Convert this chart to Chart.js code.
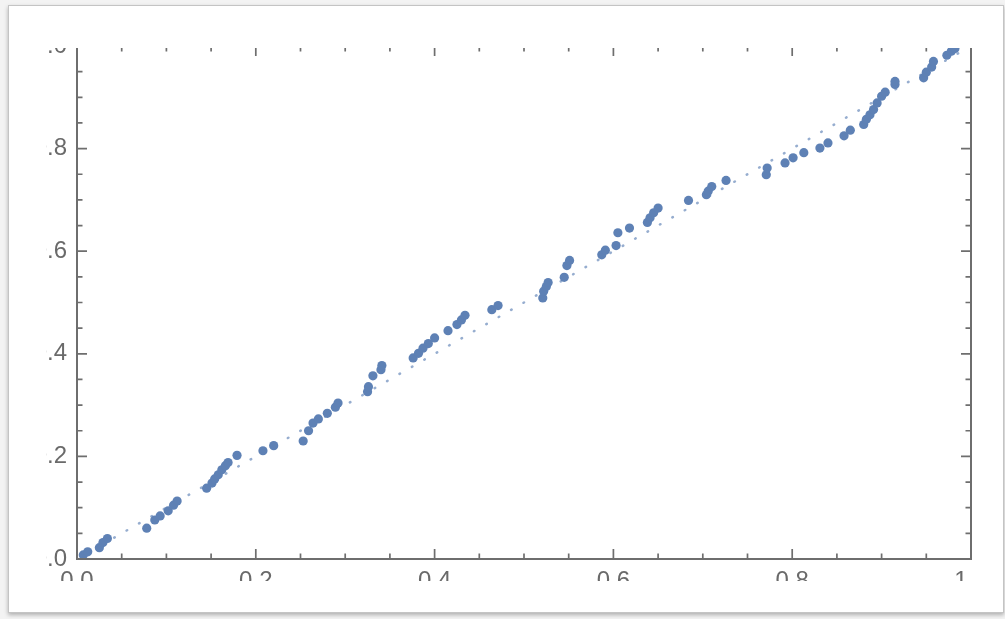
<!DOCTYPE html>
<html>
<head>
<meta charset="utf-8">
<script src="https://cdn.jsdelivr.net/npm/chart.js@4/dist/chart.umd.min.js"></script>
<style>
  html, body { margin: 0; padding: 0; width: 1005px; height: 619px; overflow: hidden; background: #f3f3f3; }
  #card { position: absolute; left: 8px; top: 5px; width: 994px; height: 606px; background: #fff;
          border: 1px solid #c4c4c4; box-shadow: 0 2px 4px rgba(0,0,0,0.28); }
  #clip { position: absolute; left: 46px; top: 48px; width: 928px; height: 533px; overflow: hidden; }
  #wrap { position: absolute; left: -46px; top: -48px; width: 1005px; height: 619px; }
</style>
</head>
<body>
<div id="card"></div>
<div id="clip"><div id="wrap"><canvas id="c" width="1005" height="619"></canvas></div></div>
<script>
// Sample quantiles (x) against observed values (y)
const sampleX = [
  0.007, 0.012, 0.025, 0.029, 0.034, 0.078, 0.087, 0.093, 0.102, 0.108,
  0.112, 0.145, 0.151, 0.154, 0.158, 0.162, 0.166, 0.169, 0.179, 0.208,
  0.220, 0.253, 0.259, 0.264, 0.270, 0.280, 0.289, 0.292, 0.325, 0.326,
  0.331, 0.340, 0.341, 0.376, 0.382, 0.387, 0.393, 0.400, 0.415, 0.425,
  0.430, 0.434, 0.464, 0.471, 0.521, 0.522, 0.525, 0.527, 0.545, 0.548,
  0.551, 0.587, 0.591, 0.603, 0.605, 0.618, 0.638, 0.641, 0.645, 0.650,
  0.684, 0.704, 0.706, 0.710, 0.726, 0.771, 0.772, 0.792, 0.801, 0.813,
  0.831, 0.840, 0.858, 0.865, 0.880, 0.883, 0.887, 0.891, 0.895, 0.900,
  0.904, 0.915, 0.915, 0.947, 0.950, 0.956, 0.958, 0.973, 0.978, 0.982
];
const sampleY = [
  0.008, 0.014, 0.022, 0.032, 0.040, 0.060, 0.076, 0.084, 0.094, 0.105,
  0.113, 0.138, 0.148, 0.156, 0.164, 0.174, 0.182, 0.188, 0.202, 0.211,
  0.221, 0.230, 0.250, 0.265, 0.273, 0.284, 0.296, 0.304, 0.326, 0.336,
  0.357, 0.369, 0.377, 0.392, 0.401, 0.411, 0.420, 0.431, 0.445, 0.457,
  0.466, 0.475, 0.486, 0.494, 0.509, 0.522, 0.531, 0.539, 0.549, 0.572,
  0.582, 0.593, 0.602, 0.611, 0.636, 0.645, 0.656, 0.665, 0.675, 0.684,
  0.699, 0.710, 0.717, 0.726, 0.738, 0.749, 0.762, 0.772, 0.782, 0.792,
  0.801, 0.811, 0.825, 0.836, 0.847, 0.857, 0.866, 0.876, 0.889, 0.902,
  0.910, 0.925, 0.931, 0.938, 0.949, 0.959, 0.970, 0.982, 0.990, 0.995
];

// Reference diagonal y = x
const refX = [0, 1];
const refY = [0, 1];

// Major tick positions and their labels
const tickValues = [0, 0.2, 0.4, 0.6, 0.8, 1.0];
const xTickLabels = ['0.0', '0.2', '0.4', '0.6', '0.8', '1.0'];
const yTickLabels = ['0.0', '0.2', '0.4', '0.6', '0.8', '1.0'];

const points = sampleX.map((v, i) => ({ x: v, y: sampleY[i] }));
const refLine = refX.map((v, i) => ({ x: v, y: refY[i] }));

const FRAME = '#6e6e6e';
const LABEL = '#6a6a6a';
const FONT = { family: 'Liberation Sans, Arial, sans-serif', size: 24 };

// Frame with inward ticks on all four sides
const framePlugin = {
  id: 'frame',
  afterDatasetsDraw(chart) {
    const { ctx, chartArea: a, scales } = chart;
    const xs = scales.x, ys = scales.y;
    ctx.save();
    ctx.strokeStyle = FRAME;
    ctx.lineWidth = 1.7;
    ctx.beginPath();
    for (let i = 0; i <= 20; i++) {
      const v = i / 20;
      const len = (i % 4 === 0) ? 10 : 5.5;
      const px = xs.getPixelForValue(v);
      ctx.moveTo(px, a.bottom); ctx.lineTo(px, a.bottom - len);
      ctx.moveTo(px, a.top);    ctx.lineTo(px, a.top + len);
      const py = ys.getPixelForValue(v);
      ctx.moveTo(a.left, py);  ctx.lineTo(a.left + len, py);
      ctx.moveTo(a.right, py); ctx.lineTo(a.right - len, py);
    }
    ctx.stroke();
    ctx.lineWidth = 2;
    ctx.strokeRect(a.left, a.top, a.right - a.left, a.bottom - a.top);
    ctx.restore();
  }
};

function fixedTicks(scale) {
  scale.ticks = tickValues.map(v => ({ value: v }));
}

new Chart(document.getElementById('c'), {
  type: 'scatter',
  data: {
    datasets: [
      {
        data: points,
        backgroundColor: '#5e81b5',
        borderColor: '#5e81b5',
        borderWidth: 0,
        pointRadius: 4.6,
        pointHoverRadius: 4.6
      },
      {
        type: 'line',
        data: refLine,
        borderColor: 'rgba(94,129,181,0.65)',
        borderWidth: 2.5,
        borderDash: [0.6, 13.7],
        borderCapStyle: 'round',
        pointRadius: 0,
        fill: false
      }
    ]
  },
  options: {
    responsive: false,
    devicePixelRatio: 1,
    animation: false,
    layout: { padding: { left: 17, right: 34, top: 46, bottom: 20 } },
    plugins: { legend: { display: false }, tooltip: { enabled: false } },
    scales: {
      x: {
        type: 'linear', min: 0, max: 1,
        grid: { display: false, drawTicks: false },
        border: { display: false },
        afterBuildTicks: fixedTicks,
        afterFit(s) { s.height = 40; },
        ticks: {
          padding: 8, color: LABEL, font: FONT, maxRotation: 0,
          callback: (v) => xTickLabels[tickValues.findIndex(t => Math.abs(t - v) < 1e-9)]
        }
      },
      y: {
        type: 'linear', min: 0, max: 1,
        grid: { display: false, drawTicks: false },
        border: { display: false },
        afterBuildTicks: fixedTicks,
        afterFit(s) { s.width = 60; },
        ticks: {
          padding: 10, color: LABEL, font: FONT,
          callback: (v) => yTickLabels[tickValues.findIndex(t => Math.abs(t - v) < 1e-9)]
        }
      }
    }
  },
  plugins: [framePlugin]
});
</script>
</body>
</html>
